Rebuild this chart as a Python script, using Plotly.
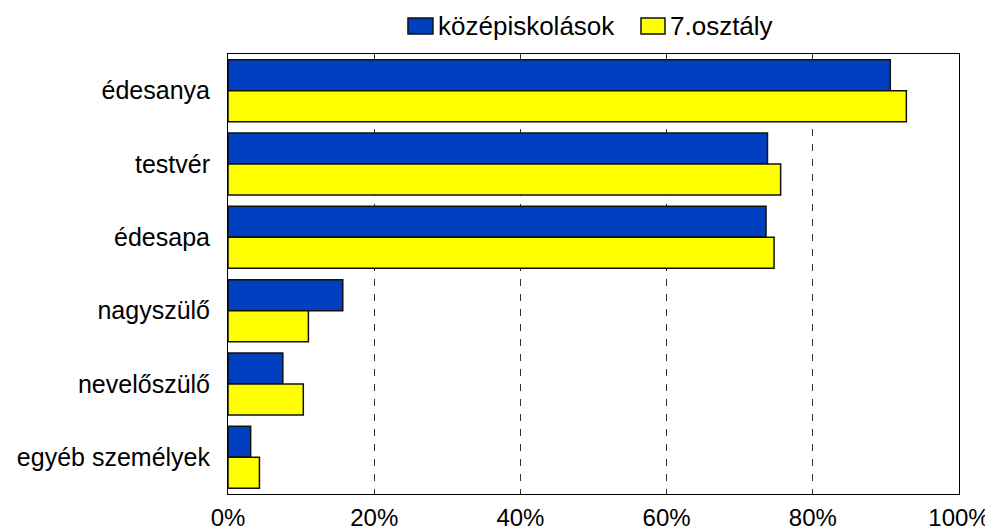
import plotly.graph_objects as go

categories = ["édesanya", "testvér", "édesapa", "nagyszülő", "nevelőszülő", "egyéb személyek"]
series_names = ["középiskolások", "7.osztály"]
kozepiskolasok = [90.6, 73.8, 73.6, 15.7, 7.5, 3.1]
osztaly7 = [92.8, 75.6, 74.7, 11.0, 10.3, 4.3]
tick_vals = [0, 20, 40, 60, 80, 100]
tick_text = ["0%", "20%", "40%", "60%", "80%", "100%"]

colors = ["#0040C0", "#FFFF00"]
FONT = "Liberation Sans, Arial, sans-serif"

fig = go.Figure()
for name, vals, col in zip(series_names, [kozepiskolasok, osztaly7], colors):
    fig.add_trace(go.Bar(
        y=categories, x=vals, name=name, orientation="h",
        marker=dict(color=col, line=dict(color="#111111", width=1.5)),
        showlegend=False,
    ))

# the html page adds an 8px body margin, so the figure is sized to fit the window
fig.update_layout(
    width=985, height=523,
    margin=dict(l=220, r=34, t=46, b=37, autoexpand=False),
    paper_bgcolor="white", plot_bgcolor="white",
    barmode="group", bargap=0.154, bargroupgap=0,
    font=dict(family=FONT, size=25, color="black"),
)
fig.update_xaxes(
    range=[0, 100], tickvals=tick_vals, ticktext=tick_text,
    showgrid=True, gridcolor="#333333", gridwidth=1, griddash="7px,8px",
    showline=True, linecolor="black", linewidth=1, mirror=True,
    ticks="", ticklabelstandoff=2, zeroline=False, automargin=False,
    tickfont=dict(family=FONT, size=24),
)
fig.update_yaxes(
    autorange="reversed", showgrid=False,
    showline=True, linecolor="black", linewidth=1, mirror=True,
    ticks="", ticklabelstandoff=12, automargin=False,
    tickfont=dict(family=FONT, size=25),
)

# custom legend (rectangular swatches as in the reference)
legend_x = [(0.2462, 0.2804, 0.2845), (0.565, 0.5978, 0.6019)]
for (x0, x1, xt), name, col in zip(legend_x, series_names, colors):
    fig.add_shape(type="rect", xref="paper", yref="paper",
                  x0=x0, x1=x1, y0=1.0455, y1=1.0818,
                  fillcolor=col, line=dict(color="#111111", width=1.5))
    fig.add_annotation(xref="paper", yref="paper", x=xt, y=1.0636,
                       text=name, showarrow=False, xanchor="left", yanchor="middle",
                       font=dict(family=FONT, size=26, color="black"))

fig.write_html("out.html")
